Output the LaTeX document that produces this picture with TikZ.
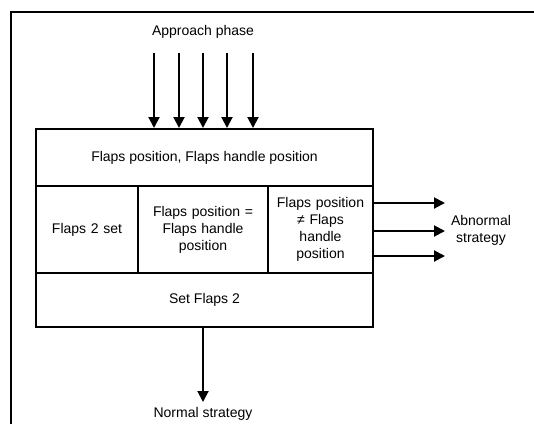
\documentclass[tikz,border=0pt]{standalone}
\usepackage{fontspec}
\setmainfont{Liberation Sans}
\usetikzlibrary{arrows.meta,calc}

\tikzset{
  cell/.style={draw,line width=2pt,inner sep=2pt,align=center,anchor=north west,
    font=\fontsize{14}{17}\selectfont},
  lbl/.style={inner sep=0pt,align=center,font=\fontsize{14}{17}\selectfont},
  flow/.style={line width=2pt,-{Triangle[length=11pt,width=11pt]}}
}

\begin{document}
\begin{tikzpicture}[x={(1pt,0)},y={(0,-1pt)}]
  \useasboundingbox (0,0) rectangle (534,424);
  % Rahmen
  \draw[line width=1.3pt] (11,424)--(11,12)--(534,12);
  % Zellen
  \node[cell,minimum width=337pt,minimum height=57pt] (top) at (35,128) {Flaps position, Flaps handle position};
  \node[cell,minimum width=102pt,minimum height=87pt,text width=96pt] (set) at (35,185) {Flaps 2 set};
  \node[cell,minimum width=130pt,minimum height=87pt,text width=120pt] (equal) at (137,185) {Flaps position =\\Flaps handle\\position};
  \node[cell,minimum width=105pt,minimum height=87pt,text width=100pt] (unequal) at (267,185) {Flaps position\\≠ Flaps\\handle\\position};
  \node[cell,minimum width=337pt,minimum height=54pt] (setflaps) at (35,272) {Set Flaps 2};
  % Texte
  \node[lbl] (approach) at (203,32) {Approach phase};
  \node[lbl] (abnormal) at (481,230) {Abnormal\\strategy};
  \node[lbl] (normal) at (203,414) {Normal strategy};
  % Pfeile
  \foreach \x [count=\i] in {154,179,203,227,253} {
    \coordinate (in\i) at (\x,53);
    \draw[flow] (in\i) -- (in\i |- top.north);
  }
  \foreach \y [count=\i] in {203,231,256} {
    \coordinate (out\i) at (445,\y);
    \draw[flow] (out\i -| unequal.east) -- (out\i);
  }
  \coordinate (down) at (203,402);
  \draw[flow] (down |- setflaps.south) -- (down);
\end{tikzpicture}
\end{document}
